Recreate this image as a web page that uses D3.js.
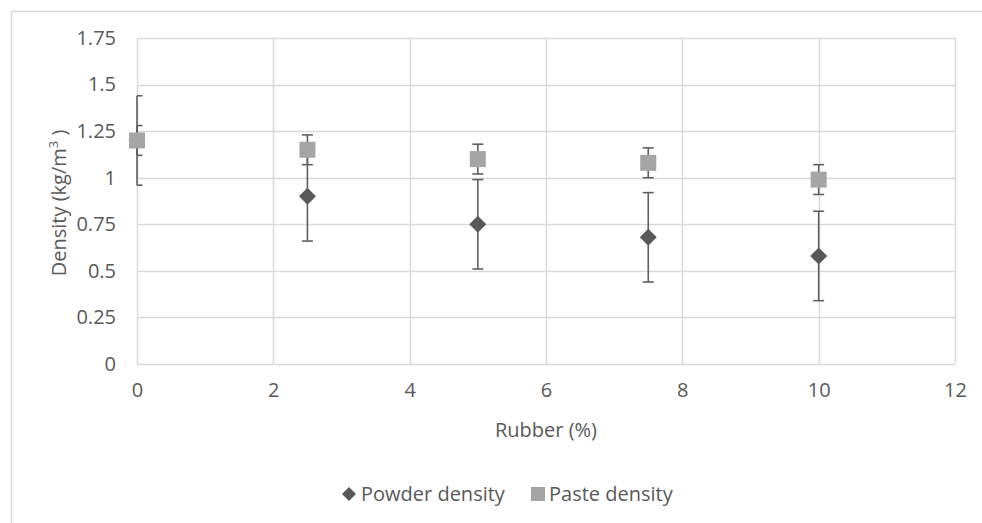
<!DOCTYPE html>
<html>
<head>
<meta charset="utf-8">
<script src="https://cdn.jsdelivr.net/npm/d3@7"></script>
<style>
  html, body { margin: 0; padding: 0; background: #fff; }
  svg { display: block; }
  text { font-family: "Open Sans", sans-serif; fill: #595959; }
</style>
</head>
<body>
<svg id="chart" width="982" height="523"></svg>
<script>
// ---- data ----
const rubber = [0, 2.5, 5, 7.5, 10];
const powderDensity = [1.2, 0.9, 0.75, 0.68, 0.58];
const powderError = [0.24, 0.24, 0.24, 0.24, 0.24];
const pasteDensity = [1.2, 1.15, 1.1, 1.08, 0.99];
const pasteError = [0.08, 0.08, 0.08, 0.08, 0.08];
const xTicks = [0, 2, 4, 6, 8, 10, 12];
const yTicks = [0, 0.25, 0.5, 0.75, 1, 1.25, 1.5, 1.75];
const seriesNames = ["Powder density", "Paste density"];

const svg = d3.select("#chart");
const W = 982, H = 523;
const m = { left: 137, right: 955, top: 38, bottom: 364 };
const FS = "20px";

// outer frame (top and left edges visible)
svg.append("path")
  .attr("d", `M11.5,${H} L11.5,11.5 L${W},11.5`)
  .attr("fill", "none").attr("stroke", "#d9d9d9").attr("stroke-width", 1.5);

const x = d3.scaleLinear().domain([0, 12]).range([m.left, m.right]);
const y = d3.scaleLinear().domain([0, 1.75]).range([m.bottom, m.top]);

// gridlines
const grid = svg.append("g");
grid.selectAll("line.h").data(yTicks).join("line")
  .attr("x1", m.left).attr("x2", m.right)
  .attr("y1", d => Math.round(y(d)) + 0.5).attr("y2", d => Math.round(y(d)) + 0.5)
  .attr("stroke", "#d9d9d9").attr("stroke-width", 1.5);
grid.selectAll("line.v").data(xTicks).join("line")
  .attr("y1", m.top).attr("y2", m.bottom)
  .attr("x1", d => Math.round(x(d)) + 0.5).attr("x2", d => Math.round(x(d)) + 0.5)
  .attr("stroke", "#d9d9d9").attr("stroke-width", 1.5);

// axes (labels only)
const xAxis = svg.append("g").attr("transform", `translate(0,${m.bottom})`)
  .call(d3.axisBottom(x).tickValues(xTicks).tickSize(0).tickPadding(19).tickFormat(d3.format("d")));
xAxis.select(".domain").remove();
xAxis.selectAll("text").style("font-size", FS).attr("fill", "#595959");

const yAxis = svg.append("g").attr("transform", `translate(${m.left},0)`)
  .call(d3.axisLeft(y).tickValues(yTicks).tickSize(0).tickPadding(21).tickFormat(d => String(d)));
yAxis.select(".domain").remove();
yAxis.selectAll("text").style("font-size", FS).attr("fill", "#595959");

// axis titles
svg.append("text")
  .attr("x", (m.left + m.right) / 2).attr("y", 437)
  .attr("text-anchor", "middle").style("font-size", FS)
  .text("Rubber (%)");

const yt = svg.append("text")
  .attr("transform", `translate(66,${(m.top + m.bottom) / 2 + 2}) rotate(-90)`)
  .attr("text-anchor", "middle").style("font-size", FS);
yt.append("tspan").text("Density (kg/m");
yt.append("tspan").attr("dy", -8).style("font-size", "13px").text("3");
yt.append("tspan").attr("dy", 8).text(" )");

// error bars
const errColor = "#5f5f5f";
function drawErrors(vals, errs) {
  const g = svg.append("g").attr("stroke", errColor).attr("stroke-width", 1.6).attr("fill", "none");
  rubber.forEach((r, i) => {
    const cx = x(r), lo = y(vals[i] - errs[i]), hi = y(vals[i] + errs[i]);
    g.append("line").attr("x1", cx).attr("x2", cx).attr("y1", lo).attr("y2", hi);
    const capL = r === 0 ? cx : cx - 5.5;
    g.append("line").attr("x1", capL).attr("x2", cx + 5.5).attr("y1", lo).attr("y2", lo);
    g.append("line").attr("x1", capL).attr("x2", cx + 5.5).attr("y1", hi).attr("y2", hi);
  });
}
drawErrors(powderDensity, powderError);
drawErrors(pasteDensity, pasteError);

// markers
const diamondPath = h => `M0,${-h}L${h},0L0,${h}L${-h},0Z`;
svg.append("g").selectAll("path").data(rubber).join("path")
  .attr("d", diamondPath(8.5))
  .attr("transform", (d, i) => `translate(${x(d)},${y(powderDensity[i])})`)
  .attr("fill", "#595959");

const sq = 16;
svg.append("g").selectAll("rect").data(rubber).join("rect")
  .attr("x", d => x(d) - sq / 2)
  .attr("y", (d, i) => y(pasteDensity[i]) - sq / 2)
  .attr("width", sq).attr("height", sq)
  .attr("fill", "#a5a5a5");

// legend
const leg = svg.append("g");
leg.append("path").attr("d", diamondPath(7))
  .attr("transform", "translate(349,494)").attr("fill", "#595959");
leg.append("text").attr("x", 361).attr("y", 494).attr("dy", "0.35em")
  .style("font-size", FS).text(seriesNames[0]);
leg.append("rect").attr("x", 531).attr("y", 487).attr("width", 14).attr("height", 14).attr("fill", "#a5a5a5");
leg.append("text").attr("x", 549).attr("y", 494).attr("dy", "0.35em")
  .style("font-size", FS).text(seriesNames[1]);
</script>
</body>
</html>
